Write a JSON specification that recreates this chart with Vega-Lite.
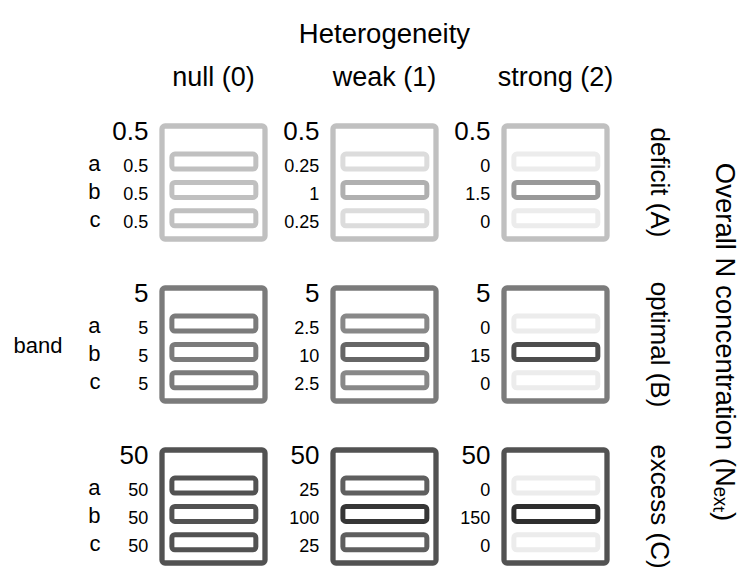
{
  "$schema": "https://vega.github.io/schema/vega-lite/v6.json",
  "padding": {"left": 13, "top": 20, "right": 0, "bottom": 0},
  "bounds": "flush",
  "title": {
    "text": "Heterogeneity", "fontSize": 27.5, "fontWeight": "normal", "color": "black",
    "anchor": "middle", "frame": "bounds", "dx": 9, "offset": 16
  },
  "config": {
    "font": "Liberation Sans",
    "view": {"stroke": null},
    "text": {"color": "black"}
  },
  "data": {
    "values": [
      {"heterogeneity": "null (0)", "concentration": "deficit (A)", "band": "a", "value": 0.5, "overall": 0.5},
      {"heterogeneity": "null (0)", "concentration": "deficit (A)", "band": "b", "value": 0.5, "overall": 0.5},
      {"heterogeneity": "null (0)", "concentration": "deficit (A)", "band": "c", "value": 0.5, "overall": 0.5},
      {"heterogeneity": "null (0)", "concentration": "optimal (B)", "band": "a", "value": 5, "overall": 5},
      {"heterogeneity": "null (0)", "concentration": "optimal (B)", "band": "b", "value": 5, "overall": 5},
      {"heterogeneity": "null (0)", "concentration": "optimal (B)", "band": "c", "value": 5, "overall": 5},
      {"heterogeneity": "null (0)", "concentration": "excess (C)", "band": "a", "value": 50, "overall": 50},
      {"heterogeneity": "null (0)", "concentration": "excess (C)", "band": "b", "value": 50, "overall": 50},
      {"heterogeneity": "null (0)", "concentration": "excess (C)", "band": "c", "value": 50, "overall": 50},
      {"heterogeneity": "weak (1)", "concentration": "deficit (A)", "band": "a", "value": 0.25, "overall": 0.5},
      {"heterogeneity": "weak (1)", "concentration": "deficit (A)", "band": "b", "value": 1, "overall": 0.5},
      {"heterogeneity": "weak (1)", "concentration": "deficit (A)", "band": "c", "value": 0.25, "overall": 0.5},
      {"heterogeneity": "weak (1)", "concentration": "optimal (B)", "band": "a", "value": 2.5, "overall": 5},
      {"heterogeneity": "weak (1)", "concentration": "optimal (B)", "band": "b", "value": 10, "overall": 5},
      {"heterogeneity": "weak (1)", "concentration": "optimal (B)", "band": "c", "value": 2.5, "overall": 5},
      {"heterogeneity": "weak (1)", "concentration": "excess (C)", "band": "a", "value": 25, "overall": 50},
      {"heterogeneity": "weak (1)", "concentration": "excess (C)", "band": "b", "value": 100, "overall": 50},
      {"heterogeneity": "weak (1)", "concentration": "excess (C)", "band": "c", "value": 25, "overall": 50},
      {"heterogeneity": "strong (2)", "concentration": "deficit (A)", "band": "a", "value": 0, "overall": 0.5},
      {"heterogeneity": "strong (2)", "concentration": "deficit (A)", "band": "b", "value": 1.5, "overall": 0.5},
      {"heterogeneity": "strong (2)", "concentration": "deficit (A)", "band": "c", "value": 0, "overall": 0.5},
      {"heterogeneity": "strong (2)", "concentration": "optimal (B)", "band": "a", "value": 0, "overall": 5},
      {"heterogeneity": "strong (2)", "concentration": "optimal (B)", "band": "b", "value": 15, "overall": 5},
      {"heterogeneity": "strong (2)", "concentration": "optimal (B)", "band": "c", "value": 0, "overall": 5},
      {"heterogeneity": "strong (2)", "concentration": "excess (C)", "band": "a", "value": 0, "overall": 50},
      {"heterogeneity": "strong (2)", "concentration": "excess (C)", "band": "b", "value": 150, "overall": 50},
      {"heterogeneity": "strong (2)", "concentration": "excess (C)", "band": "c", "value": 0, "overall": 50}
    ]
  },
  "facet": {
    "column": {
      "field": "heterogeneity", "type": "nominal",
      "sort": ["null (0)", "weak (1)", "strong (2)"],
      "header": {
        "title": null,
        "labelFontSize": 27, "labelColor": "black", "labelPadding": 34
      }
    },
    "row": {
      "field": "concentration", "type": "nominal",
      "sort": ["deficit (A)", "optimal (B)", "excess (C)"],
      "header": {
        "title": "Overall N concentration (Nₑₓₜ)", "titleOrient": "right", "titleAngle": 90,
        "titleFontSize": 27.5, "titleFontWeight": "normal", "titleColor": "black", "titlePadding": 28,
        "labelOrient": "right", "labelAngle": 90,
        "labelFontSize": 26, "labelColor": "black", "labelPadding": 39
      }
    }
  },
  "spacing": {"row": 49, "column": 68},
  "spec": {
    "width": 103,
    "height": 113,
    "layer": [
      {
        "transform": [{"filter": "datum.band === 'a'"}],
        "mark": {"type": "rect", "fill": "white", "strokeWidth": 5.3, "cornerRadius": 3},
        "encoding": {
          "stroke": {
            "field": "overall", "type": "quantitative", "legend": null,
            "scale": {
              "domain": [0, 0.25, 0.5, 1, 1.5, 2.5, 5, 10, 15, 25, 50, 100, 150],
              "range": ["#ececec", "#dcdcdc", "#c0c0c0", "#b0b0b0", "#999999", "#888888", "#7b7b7b", "#666666", "#4d4d4d", "#5f5f5f", "#525252", "#363636", "#2e2e2e"]
            }
          }
        }
      },
      {
        "mark": {"type": "rect", "fill": "white", "strokeWidth": 5, "cornerRadius": 3},
        "encoding": {
          "x": {"datum": 0.096, "type": "quantitative", "scale": {"domain": [0, 1], "nice": false, "zero": false}, "axis": null},
          "x2": {"datum": 0.911},
          "y": {
            "field": "band", "type": "nominal",
            "scale": {"domain": ["a", "b", "c"], "paddingInner": 0.47, "paddingOuter": 0.729, "align": 0.68},
            "axis": {"title": null, "domain": false, "ticks": false, "labelFontSize": 22, "labelColor": "black", "labelPadding": 62, "labelOffset": 2}
          },
          "stroke": {"field": "value", "type": "quantitative", "legend": null}
        }
      },
      {
        "mark": {"type": "text", "align": "right", "baseline": "alphabetic", "dy": 10, "fontSize": 18},
        "encoding": {
          "x": {"datum": -0.1325, "type": "quantitative"},
          "y": {"field": "band", "type": "nominal"},
          "text": {"field": "value", "type": "nominal"}
        }
      },
      {
        "transform": [{"filter": "datum.band === 'a'"}],
        "mark": {"type": "text", "align": "right", "baseline": "alphabetic", "dy": -21.6, "fontSize": 26},
        "encoding": {
          "x": {"datum": -0.1325, "type": "quantitative"},
          "y": {"datum": "a", "type": "nominal"},
          "text": {"field": "overall", "type": "nominal"}
        }
      },
      {
        "transform": [{"filter": "datum.heterogeneity === 'null (0)' && datum.concentration === 'optimal (B)' && datum.band === 'b'"}],
        "mark": {"type": "text", "align": "right", "baseline": "alphabetic", "dy": 1.3, "fontSize": 22},
        "encoding": {
          "x": {"datum": -0.967, "type": "quantitative"},
          "y": {"field": "band", "type": "nominal"},
          "text": {"value": "band"}
        }
      }
    ]
  }
}
